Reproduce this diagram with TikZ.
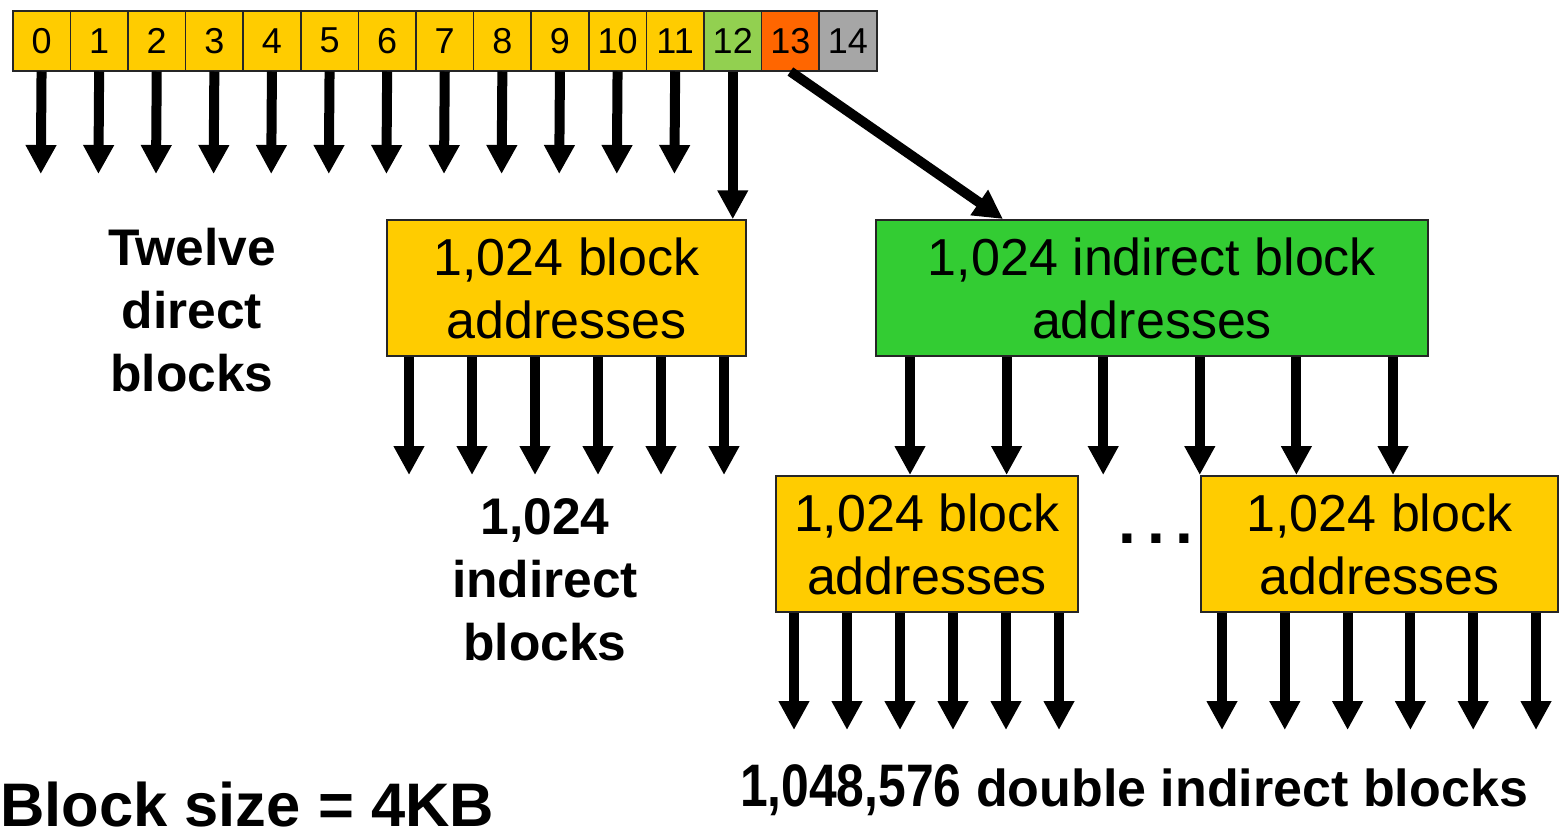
\documentclass[tikz,border=0pt]{standalone}
\usepackage{fontspec}
\usepackage{graphicx}
\setmainfont{Liberation Sans}
\usetikzlibrary{arrows.meta}
\definecolor{blkyellow}{HTML}{FFCC00}
\definecolor{lightgreen}{HTML}{92D050}
\definecolor{ptrorange}{HTML}{FF6600}
\definecolor{ptrgray}{HTML}{A6A6A6}
\definecolor{tablegreen}{HTML}{33CC33}
\begin{document}
\begin{tikzpicture}[x=1pt,y=-1pt,
  cell/.style={draw=black!85, line width=1.5pt, minimum width=57.6pt, minimum height=60pt,
    inner sep=0pt, anchor=north west, font=\fontsize{36}{40}\selectfont},
  addrbox/.style={draw=black!85, line width=1.5pt, fill=blkyellow, minimum height=136pt,
    inner sep=0pt, align=center, font=\fontsize{52}{63}\selectfont},
  ptr/.style={line width=10pt, -{Triangle[width=29pt,length=29pt]}},
  caption/.style={align=center, inner sep=0pt, font=\bfseries\fontsize{51.5}{63}\selectfont}
]
\useasboundingbox (0,0) rectangle (1560,830);

% inode block pointer table
\foreach \i in {0,...,11}
  \node[cell, fill=blkyellow] (c\i) at ({12+57.6*\i},10) {\i};
\node[cell, fill=lightgreen] (c12) at (703.2,10) {12};
\node[cell, fill=ptrorange]  (c13) at (760.8,10) {13};
\node[cell, fill=ptrgray]    (c14) at (818.4,10) {14};

% direct pointers
\foreach \i in {0,...,11} {
  \coordinate (d\i) at ({12+57.6*(\i+0.5)},174);
  \draw[ptr] (c\i.south) -- (d\i);
}

% single indirect block
\node[addrbox, minimum width=359pt] (ind) at (566.5,288) {1,024 block\\addresses};
\draw[ptr] (c12.south) -- (c12.south |- ind.north);

% double indirect block
\node[addrbox, fill=tablegreen, minimum width=552pt] (dbl) at (1152,288)
  {1,024 indirect block\\addresses};
\coordinate (dtip) at (1003,219);
\draw[ptr] (c13.south) -- (dtip);

% pointers out of the single indirect block
\foreach \k in {0,...,5} {
  \coordinate (i\k) at ({409+63*\k},475);
  \draw[ptr] (i\k |- ind.south) -- (i\k);
}

% pointers out of the double indirect block
\foreach \k in {0,...,5} {
  \coordinate (g\k) at ({910+96.6*\k},475);
  \draw[ptr] (g\k |- dbl.south) -- (g\k);
}

% second-level blocks
\node[addrbox, minimum width=302pt] (la) at (927,544) {1,024 block\\addresses};
\node[addrbox, minimum width=357pt] (lb) at (1379.5,544) {1,024 block\\addresses};
\node[inner sep=0pt, anchor=base, font=\bfseries\fontsize{64}{64}\selectfont] (dots)
  at (1156,543) {.\hspace{11pt}.\hspace{11pt}.};

\foreach \k in {0,...,5} {
  \coordinate (a\k) at ({794+53*\k},730);
  \draw[ptr] (a\k |- la.south) -- (a\k);
  \coordinate (b\k) at ({1222+62.8*\k},730);
  \draw[ptr] (b\k |- lb.south) -- (b\k);
}

% captions
\node[caption] (twelve) at (192,310) {Twelve\\direct\\blocks};
\node[caption] (single) at (545,580) {1,024\\indirect\\blocks};
\node[inner sep=0pt, anchor=base, font=\bfseries\fontsize{52}{60}\selectfont] (double)
  at (1134,806) {\scalebox{0.83}[1]{\fontsize{60}{60}\selectfont 1,048,576} double indirect blocks};
\node[inner sep=0pt, anchor=base west, font=\bfseries\fontsize{61.5}{72}\selectfont] (bsize)
  at (0,826) {Block size = 4KB};
\end{tikzpicture}
\end{document}
